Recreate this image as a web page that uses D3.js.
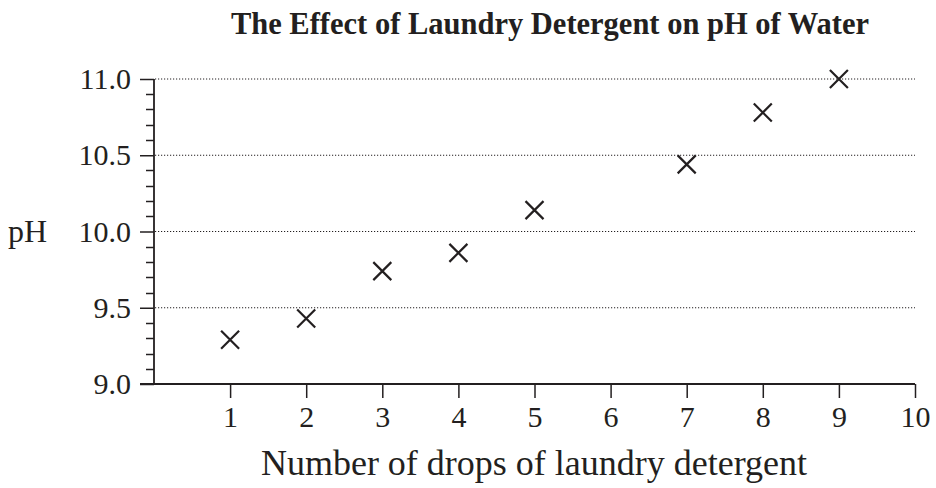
<!DOCTYPE html>
<html>
<head>
<meta charset="utf-8">
<script src="https://cdn.jsdelivr.net/npm/d3@7"></script>
<style>
  body { margin: 0; background: #fff; }
  svg text { font-family: "Liberation Serif", "DejaVu Serif", serif; fill: #231f20; }
</style>
</head>
<body>
<script>
// drops of detergent vs measured pH
const drops = [1, 2, 3, 4, 5, 7, 8, 9];
const phValues = [9.29, 9.43, 9.74, 9.86, 10.14, 10.44, 10.78, 11.0];
const xTicks = [1, 2, 3, 4, 5, 6, 7, 8, 9, 10];
const yTicks = [9.0, 9.5, 10.0, 10.5, 11.0];

const width = 936, height = 488;
const ink = "#231f20";

const svg = d3.select("body")
  .append("svg")
  .attr("width", width)
  .attr("height", height);

const x = d3.scaleLinear().domain([0, 10]).range([154, 915]);
const y = d3.scaleLinear().domain([9, 11]).range([384, 79]);

// dotted gridlines
svg.append("g")
  .selectAll("line")
  .data(yTicks.filter(d => d > 9))
  .join("line")
    .attr("x1", x(0) + 1)
    .attr("x2", x(10))
    .attr("y1", d => y(d))
    .attr("y2", d => y(d))
    .attr("stroke", ink)
    .attr("stroke-width", 1)
    .attr("stroke-dasharray", "1.2,1.8");

// minor y ticks
const minor = d3.range(9.1, 11, 0.1).filter(d => Math.abs(d * 2 - Math.round(d * 2)) > 0.01);
svg.append("g")
  .selectAll("line")
  .data(minor)
  .join("line")
    .attr("x1", x(0) - 8)
    .attr("x2", x(0))
    .attr("y1", d => Math.round(y(d)) + 0.5)
    .attr("y2", d => Math.round(y(d)) + 0.5)
    .attr("stroke", ink)
    .attr("stroke-width", 1.5);

const yAxis = svg.append("g")
  .attr("transform", `translate(${x(0)},0)`)
  .call(d3.axisLeft(y).tickValues(yTicks).tickFormat(d3.format(".1f")).tickSize(14).tickPadding(9));

const xAxis = svg.append("g")
  .attr("transform", `translate(0,${y(9)})`)
  .call(d3.axisBottom(x).tickValues(xTicks).tickSize(14).tickPadding(8));

[yAxis, xAxis].forEach(g => {
  g.select(".domain").attr("stroke", ink).attr("stroke-width", 1.8);
  g.selectAll(".tick line").attr("stroke", ink).attr("stroke-width", 1.5);
  g.selectAll(".tick text").attr("font-size", 30).attr("font-family", "Liberation Serif").attr("fill", ink);
});
xAxis.select(".domain").attr("d", `M${x(0) - 14},0H${x(10)}`);
yAxis.select(".domain").attr("d", `M0,${y(11)}V${y(9)}`);

// cross markers
const s = 9;
svg.append("g")
  .selectAll("path")
  .data(drops.map((d, i) => [d, phValues[i]]))
  .join("path")
    .attr("d", d => {
      const cx = x(d[0]), cy = y(d[1]);
      return `M${cx - s},${cy - s}L${cx + s},${cy + s}M${cx - s},${cy + s}L${cx + s},${cy - s}`;
    })
    .attr("stroke", ink)
    .attr("stroke-width", 2.2)
    .attr("fill", "none");

svg.append("text")
  .attr("x", 550)
  .attr("y", 34)
  .attr("text-anchor", "middle")
  .attr("font-size", 30.5)
  .attr("font-weight", "bold")
  .text("The Effect of Laundry Detergent on pH of Water");

svg.append("text")
  .attr("x", 534)
  .attr("y", 475)
  .attr("text-anchor", "middle")
  .attr("font-size", 36)
  .text("Number of drops of laundry detergent");

svg.append("text")
  .attr("x", 8)
  .attr("y", 242)
  .attr("font-size", 32)
  .text("pH");
</script>
</body>
</html>
